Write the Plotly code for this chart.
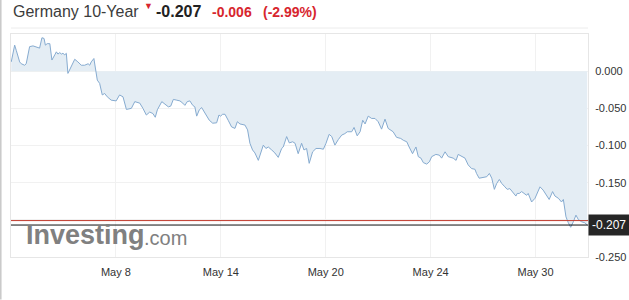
import plotly.graph_objects as go

# ---- data (x in trading days since May 2; y = yield %) ----
x_days = [0.01, 0.14, 0.20, 0.33, 0.39, 0.52, 0.58, 0.71, 0.84, 1.03, 1.09, 1.18, 1.26, 1.31, 1.38, 1.48,
          1.56, 1.67, 1.73, 1.79, 1.86, 1.92, 1.98, 2.05, 2.11, 2.17, 2.30, 2.43, 2.55, 2.68, 2.81, 2.94,
          3.00, 3.06, 3.16, 3.21, 3.29, 3.38, 3.48, 3.57, 3.67, 3.82, 4.01, 4.14, 4.27, 4.40, 4.59, 4.72,
          4.91, 5.03, 5.16, 5.29, 5.41, 5.50, 5.58, 5.75, 5.94, 6.00, 6.09, 6.19, 6.32, 6.44, 6.55, 6.63,
          6.72, 6.82, 6.93, 7.01, 7.08, 7.18, 7.27, 7.40, 7.56, 7.69, 7.84, 7.93, 7.99, 8.07, 8.16, 8.28,
          8.41, 8.54, 8.63, 8.73, 8.92, 9.02, 9.11, 9.21, 9.30, 9.43, 9.53, 9.62, 9.72, 9.81, 9.94, 10.06,
          10.19, 10.32, 10.38, 10.51, 10.61, 10.74, 10.83, 10.95, 11.08, 11.17, 11.27, 11.37, 11.50, 11.63,
          11.78, 11.91, 12.01, 12.13, 12.23, 12.35, 12.48, 12.61, 12.73, 12.82, 12.99, 13.08, 13.20, 13.31,
          13.41, 13.50, 13.62, 13.75, 13.88, 14.00, 14.13, 14.26, 14.38, 14.57, 14.70, 14.86, 14.96, 15.09,
          15.18, 15.31, 15.44, 15.53, 15.63, 15.72, 15.85, 15.95, 16.04, 16.20, 16.33, 16.42, 16.55, 16.67,
          16.86, 16.97, 17.05, 17.18, 17.31, 17.43, 17.56, 17.69, 17.75, 17.85, 18.01, 18.14, 18.24, 18.33,
          18.43, 18.52, 18.62, 18.71, 18.83, 18.92, 19.02, 19.15, 19.25, 19.30, 19.38, 19.47, 19.56, 19.66,
          19.72, 19.85, 19.98, 20.17, 20.29, 20.42, 20.52, 20.65, 20.74, 20.87, 20.99, 21.06, 21.16, 21.25,
          21.34, 21.44, 21.54, 21.63, 21.76, 21.88, 21.97]

yields = [0.0125, 0.035, 0.028, 0.0125, 0.010, 0.008, 0.010, 0.033, 0.034, 0.031, 0.031, 0.045, 0.044, 0.035,
          0.037, 0.037, 0.015, 0.022, 0.026, 0.023, 0.025, 0.023, 0.024, 0.022, 0.024, -0.003, 0.006, 0.016,
          0.0125, 0.008, 0.008, 0.010, 0.008, 0.0125, 0.017, 0.006, -0.012, -0.0165, -0.032, -0.030, -0.0345,
          -0.039, -0.040, -0.032, -0.0345, -0.0515, -0.050, -0.041, -0.043, -0.050, -0.059, -0.055, -0.057,
          -0.062, -0.052, -0.041, -0.046, -0.048, -0.047, -0.038, -0.039, -0.040, -0.043, -0.046, -0.041,
          -0.040, -0.046, -0.048, -0.0605, -0.052, -0.049, -0.057, -0.066, -0.070, -0.0695, -0.059, -0.0605,
          -0.058, -0.058, -0.066, -0.075, -0.077, -0.068, -0.071, -0.0725, -0.079, -0.097, -0.106, -0.110,
          -0.120, -0.1085, -0.0995, -0.104, -0.102, -0.106, -0.110, -0.116, -0.104, -0.102, -0.088, -0.0965,
          -0.095, -0.097, -0.111, -0.097, -0.106, -0.104, -0.124, -0.1085, -0.104, -0.104, -0.105, -0.097,
          -0.085, -0.088, -0.0995, -0.092, -0.086, -0.084, -0.0815, -0.0815, -0.0757, -0.087, -0.0815, -0.066,
          -0.071, -0.0605, -0.0636, -0.0636, -0.068, -0.078, -0.0645, -0.077, -0.0815, -0.089, -0.0905, -0.093,
          -0.095, -0.102, -0.111, -0.102, -0.115, -0.117, -0.123, -0.125, -0.122, -0.115, -0.112, -0.113,
          -0.117, -0.1085, -0.115, -0.117, -0.120, -0.112, -0.115, -0.117, -0.126, -0.131, -0.132, -0.1376,
          -0.144, -0.143, -0.142, -0.1376, -0.144, -0.159, -0.151, -0.1457, -0.151, -0.1556, -0.159, -0.158,
          -0.164, -0.168, -0.1645, -0.1645, -0.162, -0.1645, -0.167, -0.1645, -0.176, -0.171, -0.1556, -0.160,
          -0.167, -0.1726, -0.162, -0.168, -0.171, -0.176, -0.1726, -0.196, -0.204, -0.210, -0.2027, -0.1937,
          -0.1995, -0.2027, -0.204, -0.207]

tick_pos = [4, 8, 12, 16, 20]
tick_labels = ["May 8", "May 14", "May 20", "May 24", "May 30"]
y_ticks = [0.0, -0.05, -0.10, -0.15, -0.20, -0.25]
y_tick_labels = ["0.000", "-0.050", "-0.100", "-0.150", "-0.200", "-0.250"]

last_value = -0.207
prev_close = -0.201
change = "-0.006"
change_pct = "(-2.99%)"
title = "Germany 10-Year"

FONT = "Arial, 'Liberation Sans', sans-serif"
RED = "#d7262e"

fig = go.Figure()
fig.add_trace(go.Scatter(
    x=x_days, y=yields, mode="lines",
    line=dict(color="#86abd0", width=1),
    fill="tozeroy", fillcolor="#e4edf4",
    hoverinfo="skip", showlegend=False,
))

W, H = 629, 300
ml, mr, mt, mb = 11, 41, 34, 42.5
pw, ph = W - ml - mr, H - mt - mb


def px_x(px):
    return (px - ml) / pw


def px_y(py):
    return (H - mb - py) / ph


annotations = [
    dict(text=title, x=px_x(10.5), y=px_y(11), xanchor="left", yanchor="middle",
         font=dict(size=16, color="#3c3c3c", family=FONT)),
    dict(text="▼", x=px_x(141.5), y=px_y(5.5), xanchor="left", yanchor="middle",
         font=dict(size=9, color=RED, family=FONT)),
    dict(text=f"<b>{last_value:.3f}</b>", x=px_x(153.5), y=px_y(11), xanchor="left", yanchor="middle",
         font=dict(size=16, color="#222222", family=FONT)),
    dict(text=f"<b>{change}</b>", x=px_x(209.5), y=px_y(11.5), xanchor="left", yanchor="middle",
         font=dict(size=14, color=RED, family=FONT)),
    dict(text=f"<b>{change_pct}</b>", x=px_x(260.5), y=px_y(11.5), xanchor="left", yanchor="middle",
         font=dict(size=14, color=RED, family=FONT)),
    # Investing.com watermark
    dict(text="<b>Investing</b>", x=px_x(23.5), y=px_y(235), xanchor="left", yanchor="middle",
         font=dict(size=27, color="#808080", family=FONT)),
    dict(text=".com", x=px_x(142), y=px_y(238), xanchor="left", yanchor="middle",
         font=dict(size=20, color="#808080", family=FONT)),
    # last price box
    dict(text=f"{last_value:.3f}", x=1, y=last_value, xref="paper", yref="y",
         xanchor="left", yanchor="middle", bgcolor="#262626", borderpad=3,
         font=dict(size=12, color="#ffffff", family=FONT)),
]
for a in annotations:
    a.setdefault("xref", "paper")
    a.setdefault("yref", "paper")
    a["showarrow"] = False

shapes = [
    dict(type="line", xref="paper", yref="y", x0=0, x1=1, y0=prev_close, y1=prev_close,
         line=dict(color="#c0392b", width=1), layer="above"),
    dict(type="line", xref="paper", yref="y", x0=0, x1=1, y0=last_value, y1=last_value,
         line=dict(color="#111111", width=1), layer="above"),
    # outer left border of the widget
    dict(type="line", xref="paper", yref="paper", x0=px_x(0.8), x1=px_x(0.8), y0=px_y(0), y1=px_y(300),
         line=dict(color="#c8c8c8", width=1.5)),
    # header separator
    dict(type="line", xref="paper", yref="paper", x0=px_x(11), x1=1, y0=px_y(28), y1=px_y(28),
         line=dict(color="#ececec", width=1)),
]

fig.update_layout(
    width=W, height=H,
    margin=dict(l=ml, r=mr, t=mt, b=mb, pad=0, autoexpand=False),
    paper_bgcolor="#ffffff", plot_bgcolor="#ffffff",
    font=dict(family=FONT, size=11, color="#333333"),
    annotations=annotations, shapes=shapes,
    showlegend=False,
)
fig.update_xaxes(
    range=[0, 22], tickvals=tick_pos, ticktext=tick_labels,
    showgrid=True, gridcolor="#f1f1f1", gridwidth=1,
    zeroline=False, showline=True, linecolor="#e6e6e6", mirror=True,
    ticks="", ticklabelstandoff=5, tickfont=dict(size=11, color="#333333"),
    fixedrange=True, automargin=False,
)
fig.update_yaxes(
    range=[-0.25, 0.05], side="right", tickvals=y_ticks, ticktext=y_tick_labels,
    showgrid=True, gridcolor="#f1f1f1", gridwidth=1,
    zeroline=False, showline=True, linecolor="#e6e6e6", mirror=True,
    ticks="", ticklabelstandoff=4, tickfont=dict(size=11, color="#333333"),
    fixedrange=True, automargin=False,
)

fig.write_html("out.html", config={"displayModeBar": False})
